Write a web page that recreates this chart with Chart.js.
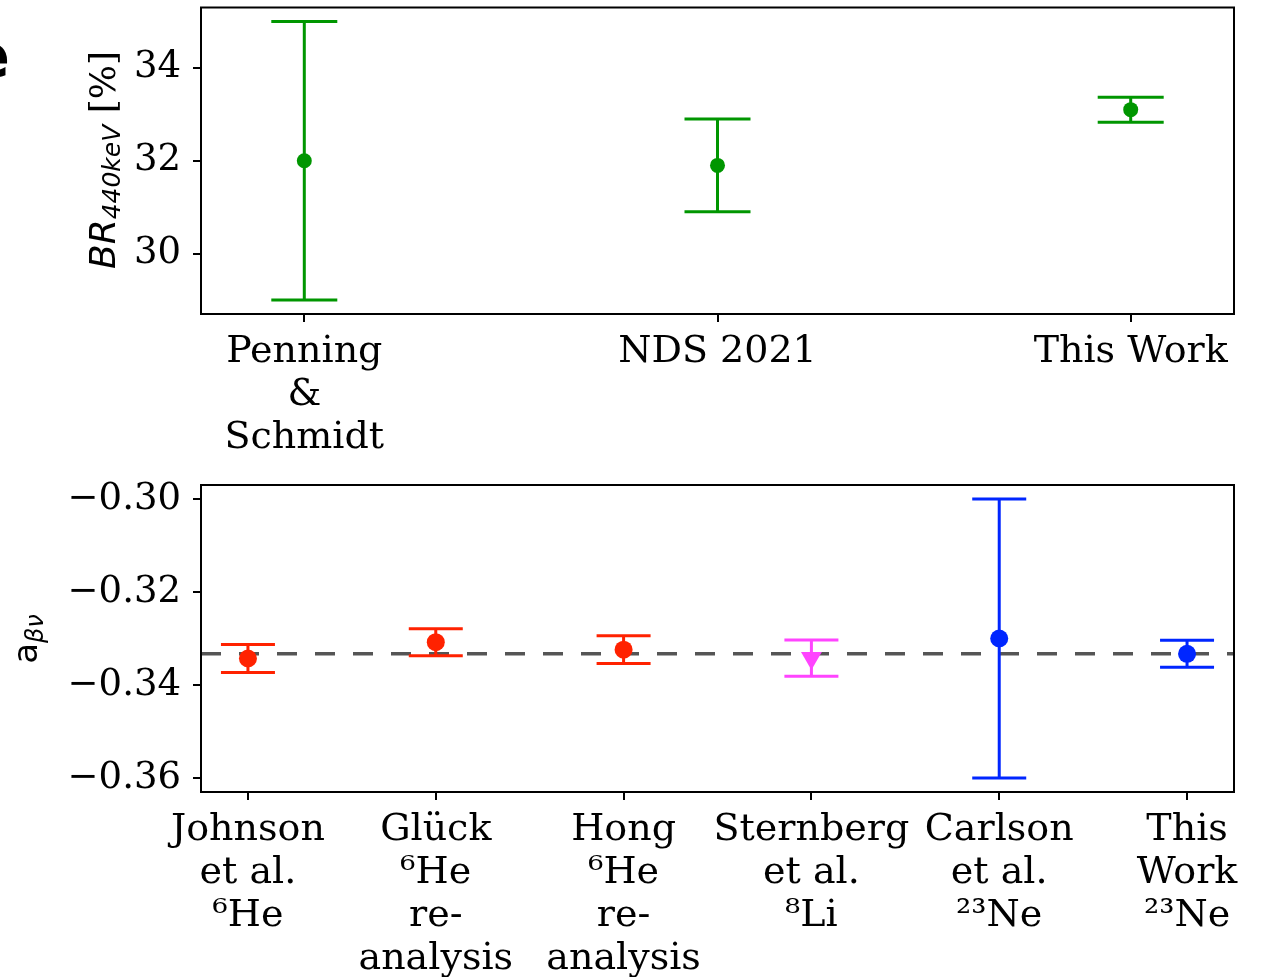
<!DOCTYPE html>
<html lang="en">
<head>
<meta charset="UTF-8" />
<title>BR 440 keV and a_beta_nu comparison</title>
<style>
  body { margin: 0; background: #ffffff; }
  canvas { position: absolute; left: 0; }
  #topChart { top: 0; }
  #botChart { top: 465px; }
</style>
<script src="https://cdn.jsdelivr.net/npm/chart.js@4"></script>
</head>
<body>
<canvas id="topChart" width="1263" height="465"></canvas>
<canvas id="botChart" width="1263" height="512"></canvas>
<script>
  // upper panel: branching ratio of the 440 keV line
  const topLabels = [["Penning", "&", "Schmidt"], ["NDS 2021"], ["This Work"]];
  const topValues = [32.0, 31.9, 33.1];
  const topErrors = [3.0, 1.0, 0.27];
  const topTicks = [30, 32, 34];

  // lower panel: beta-neutrino correlation
  const botLabels = [
    ["Johnson", "et al.", "⁶He"],
    ["Glück", "⁶He", "re-", "analysis"],
    ["Hong", "⁶He", "re-", "analysis"],
    ["Sternberg", "et al.", "⁸Li"],
    ["Carlson", "et al.", "²³Ne"],
    ["This", "Work", "²³Ne"]
  ];
  const botValues = [-0.3343, -0.3308, -0.3324, -0.3342, -0.330, -0.3333];
  const botErrors = [0.0030, 0.0029, 0.0030, 0.0039, 0.030, 0.0029];
  const botColors = ["#ff2200", "#ff2200", "#ff2200", "#ff44ff", "#0026ff", "#0026ff"];
  const botMarkers = ["circle", "circle", "circle", "triangle", "circle", "circle"];
  const botTicks = [-0.36, -0.34, -0.32, -0.30];
  const refValue = -0.3333;

  const serif = "'DejaVu Serif', serif";
  const sans = "'DejaVu Sans', sans-serif";

  function drawRotated(ctx, cx, cy, parts) {
    let total = 0;
    parts.forEach(p => { ctx.font = p.font; p.w = ctx.measureText(p.text).width; total += p.w; });
    ctx.save();
    ctx.translate(cx, cy);
    ctx.rotate(-Math.PI / 2);
    ctx.fillStyle = "#000";
    ctx.textAlign = "left";
    ctx.textBaseline = "alphabetic";
    let x = -total / 2;
    parts.forEach(p => { ctx.font = p.font; ctx.fillText(p.text, x, p.dy || 0); x += p.w; });
    ctx.restore();
  }

  const errorBarPlugin = {
    id: "errbars",
    beforeDatasetsDraw(chart, args, opts) {
      const ctx = chart.ctx, xs = chart.scales.x, ys = chart.scales.y, a = chart.chartArea;
      ctx.save();
      if (opts.ref !== undefined) {
        const yy = ys.getPixelForValue(opts.ref);
        ctx.strokeStyle = "#555555";
        ctx.lineWidth = 3.5;
        ctx.setLineDash([20, 18]);
        ctx.beginPath();
        ctx.moveTo(a.left, yy);
        ctx.lineTo(a.right, yy);
        ctx.stroke();
        ctx.setLineDash([]);
      }
      opts.values.forEach((v, i) => {
        const px = xs.getPixelForValue(i);
        const y1 = ys.getPixelForValue(v + opts.errors[i]);
        const y2 = ys.getPixelForValue(v - opts.errors[i]);
        ctx.strokeStyle = opts.colors[i];
        ctx.lineWidth = opts.width;
        ctx.beginPath();
        ctx.moveTo(px, y1); ctx.lineTo(px, y2);
        ctx.moveTo(px - opts.cap, y1); ctx.lineTo(px + opts.cap, y1);
        ctx.moveTo(px - opts.cap, y2); ctx.lineTo(px + opts.cap, y2);
        ctx.stroke();
      });
      ctx.restore();
    },
    afterDraw(chart, args, opts) {
      const ctx = chart.ctx, a = chart.chartArea;
      ctx.save();
      ctx.strokeStyle = "#000";
      ctx.lineWidth = 2;
      ctx.strokeRect(a.left, a.top, a.right - a.left, a.bottom - a.top);
      drawRotated(ctx, opts.titleX, opts.titleY, opts.title);
      if (opts.letter) {
        ctx.font = "bold 60px " + sans;
        ctx.fillStyle = "#000";
        ctx.textAlign = "right";
        ctx.fillText(opts.letter, 10, 77);
      }
      ctx.restore();
    }
  };

  function makeChart(id, o) {
    return new Chart(document.getElementById(id), {
      type: "scatter",
      data: {
        datasets: [{
          data: o.values.map((v, i) => ({ x: i, y: v })),
          pointRadius: o.markers.map(m => (m === "triangle" ? o.radius + 3 : o.radius)),
          pointHoverRadius: o.markers.map(m => (m === "triangle" ? o.radius + 3 : o.radius)),
          pointStyle: o.markers,
          rotation: o.markers.map(m => (m === "triangle" ? 180 : 0)),
          pointBackgroundColor: o.colors,
          pointBorderWidth: 0
        }]
      },
      options: {
        responsive: false,
        animation: false,
        devicePixelRatio: 1,
        layout: { padding: o.padding },
        plugins: {
          legend: { display: false },
          tooltip: { enabled: false },
          errbars: {
            values: o.values, errors: o.errors, colors: o.colors,
            cap: o.cap, width: 3, ref: o.ref,
            title: o.title, titleX: o.titleX, titleY: o.titleY, letter: o.letter
          }
        },
        scales: {
          x: {
            type: "linear",
            min: -0.25,
            max: o.labels.length - 0.75,
            afterBuildTicks: s => { s.ticks = o.labels.map((_, i) => ({ value: i })); },
            afterFit: s => { s.height = o.xHeight; s.paddingLeft = 0; s.paddingRight = 0; },
            grid: { drawOnChartArea: false, tickLength: 8, color: "#000", lineWidth: 2 },
            border: { display: false },
            ticks: {
              callback: v => o.labels[v],
              font: { family: serif, size: 38, lineHeight: 1.14 },
              color: "#000",
              padding: 8,
              maxRotation: 0,
              autoSkip: false
            }
          },
          y: {
            min: o.yMin,
            max: o.yMax,
            afterBuildTicks: s => { s.ticks = o.ticks.map(v => ({ value: v })); },
            afterFit: s => { s.width = 201; s.paddingTop = 0; s.paddingBottom = 0; },
            grid: { drawOnChartArea: false, tickLength: 8, color: "#000", lineWidth: 2 },
            border: { display: false },
            ticks: {
              callback: o.fmt,
              font: { family: serif, size: 37 },
              color: "#000",
              padding: 12
            }
          }
        }
      },
      plugins: [errorBarPlugin]
    });
  }

  makeChart("topChart", {
    labels: topLabels, values: topValues, errors: topErrors,
    colors: topValues.map(() => "#009600"),
    markers: topValues.map(() => "circle"),
    radius: 7.5, cap: 33,
    ticks: topTicks, yMin: 28.7, yMax: 35.3,
    fmt: v => String(v),
    padding: { top: 6, right: 29, left: 0, bottom: 0 },
    xHeight: 151,
    title: [
      { text: "BR", font: "italic 36px " + sans },
      { text: "440keV", font: "italic 25px " + sans, dy: 5 },
      { text: " [%]", font: "36px " + serif }
    ],
    titleX: 115, titleY: 160,
    letter: "e"
  });

  makeChart("botChart", {
    labels: botLabels, values: botValues, errors: botErrors,
    colors: botColors, markers: botMarkers,
    radius: 9, cap: 27, ref: refValue,
    ticks: botTicks, yMin: -0.363, yMax: -0.297,
    fmt: v => "\u2212" + Math.abs(v).toFixed(2),
    padding: { top: 20, right: 29, left: 0, bottom: 0 },
    xHeight: 185,
    title: [
      { text: "a", font: "34px " + sans },
      { text: "βν", font: "italic 24px " + sans, dy: 6 }
    ],
    titleX: 37, titleY: 174
  });
</script>
</body>
</html>
